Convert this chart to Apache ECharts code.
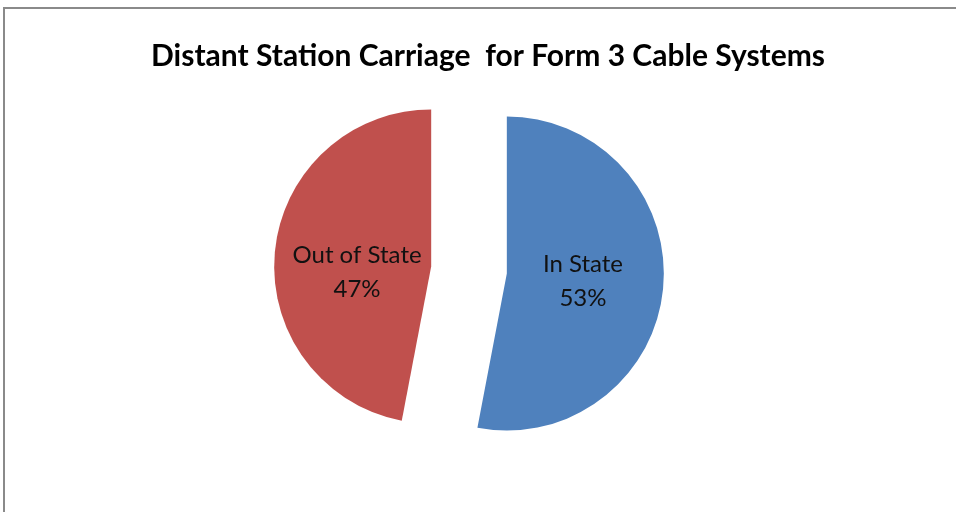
<!DOCTYPE html>
<html>
<head>
<meta charset="utf-8">
<script src="https://cdn.jsdelivr.net/npm/echarts@6/dist/echarts.min.js"></script>
<style>
html,body{margin:0;padding:0;background:#fff;}
#c{width:956px;height:512px;}
</style>
</head>
<body>
<div id="c"></div>
<script>
const categories = ["In State", "Out of State"];
const values = [53, 47];
const colors = ["#4F81BD", "#C0504D"];
const titleText = "Distant Station Carriage  for Form 3 Cable Systems";

const fmt = p => p.name + '\n' + Math.round(p.percent) + '%';
const fmtLow = p => '{gap|}\n' + fmt(p);

const chart = echarts.init(document.getElementById('c'));
chart.setOption({
  animation: false,
  backgroundColor: '#fff',
  title: {
    text: titleText,
    left: 483, top: 36, textAlign: 'center',
    textStyle: {fontFamily: 'Lato', fontWeight: 'bold', fontSize: 30, color: '#000'}
  },
  graphic: [{
    type: 'rect', shape: {x: 4, y: 8, width: 1000, height: 600},
    style: {fill: 'none', stroke: '#8a8a8a', lineWidth: 2}, silent: true, z: -1
  }],
  series: [{
    type: 'pie',
    center: [469, 270],
    radius: 157,
    startAngle: 90,
    clockwise: true,
    selectedMode: 'multiple',
    selectedOffset: 38,
    avoidLabelOverlap: false,
    label: {
      show: true, position: 'inside',
      formatter: fmt,
      fontFamily: 'Lato', fontSize: 24, color: '#111', lineHeight: 34,
      rich: {gap: {height: 28, lineHeight: 28, fontSize: 1}}
    },
    labelLine: {show: false},
    emphasis: {disabled: true},
    data: categories.map((n, i) => ({
      name: n, value: values[i], selected: true,
      itemStyle: {color: colors[i]},
      label: i === 1 ? {formatter: fmtLow, padding: [0, 0, 0, 14]} : {padding: [0, 10, 0, 0]}
    }))
  }]
});
</script>
</body>
</html>
